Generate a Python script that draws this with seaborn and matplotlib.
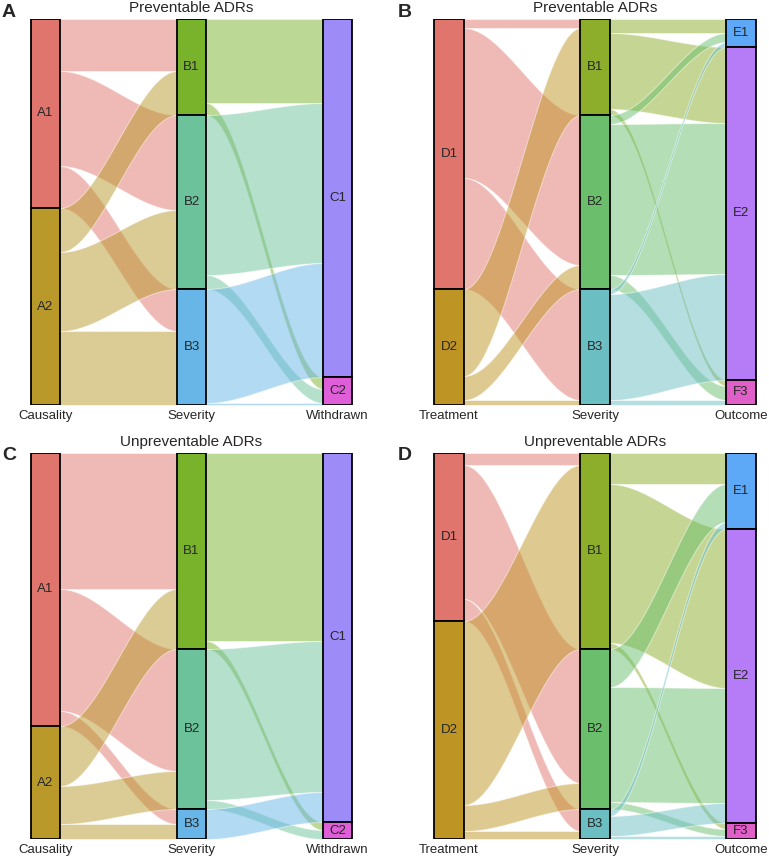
import numpy as np
import seaborn as sns
import matplotlib.pyplot as plt

# stratum levels for each axis
causality = ["A1", "A2"]
treatment = ["D1", "D2"]
severity = ["B1", "B2", "B3"]
withdrawn = ["C1", "C2"]
outcome = ["E1", "E2", "F3"]

# flow sizes (rows = left stratum, cols = right stratum)
prev_causality_severity = [[52, 95, 42], [44, 79, 74]]
prev_severity_withdrawn = [[84, 12], [160, 14], [114, 2]]
prev_treatment_severity = [[9, 150, 111], [87, 24, 5]]
prev_severity_outcome = [[14, 76, 6], [9, 151, 14], [5, 106, 5]]

unprev_causality_severity = [[136, 122, 15], [60, 38, 15]]
unprev_severity_withdrawn = [[188, 8], [151, 9], [30, 0]]
unprev_treatment_severity = [[12, 134, 22], [184, 26, 8]]
unprev_severity_outcome = [[31, 159, 6], [38, 115, 7], [7, 20, 3]]

colors_withdrawn = {"A1": "#E0756D", "A2": "#B8992A", "B1": "#79B22B",
                    "B2": "#6CC29B", "B3": "#67B6E7", "C1": "#9D8CF8",
                    "C2": "#DE5FD8"}
colors_outcome = {"D1": "#E0756D", "D2": "#BE9524", "B1": "#8DAE2A",
                  "B2": "#6BBF6C", "B3": "#6BBFC3", "E1": "#5EA9F7",
                  "E2": "#B67BF7", "F3": "#E05FC8"}

sns.set_style("white")
plt.rcParams['font.family'] = ['Liberation Sans', 'DejaVu Sans']

W, H = 769, 860
WIDTH = 0.2  # stratum width in axis units


def draw_alluvial(ax, names, levels, flows, colors, title):
    flows = [np.array(f, dtype=float) for f in flows]
    totals = [flows[0].sum(axis=1), flows[0].sum(axis=0), flows[1].sum(axis=0)]
    tops = [np.concatenate([[0], np.cumsum(t)[:-1]]) for t in totals]
    grand = totals[0].sum()

    # flows between neighbouring axes
    for i, m in enumerate(flows):
        x0 = i + 1 + WIDTH / 2
        x1 = i + 2 - WIDTH / 2
        xs = np.linspace(x0, x1, 80)
        t = (xs - x0) / (x1 - x0)
        s = t * t * (3 - 2 * t)
        left_off = tops[i].copy()
        right_start = tops[i + 1].copy()
        # incoming positions on right stratum: ordered by source
        right_pos = np.zeros_like(m)
        for c in range(m.shape[1]):
            acc = right_start[c]
            for r in range(m.shape[0]):
                right_pos[r, c] = acc
                acc += m[r, c]
        for r in range(m.shape[0]):
            for c in range(m.shape[1]):
                v = m[r, c]
                if v <= 0:
                    continue
                yl = left_off[r]
                yr = right_pos[r, c]
                ytop = yl + (yr - yl) * s
                ax.fill_between(xs, ytop, ytop + v, color=colors[levels[i][r]],
                                alpha=0.5, edgecolor="white", linewidth=0.7,
                                zorder=1)
                left_off[r] += v

    # strata
    for i in range(3):
        for j, lev in enumerate(levels[i]):
            ax.bar(i + 1, totals[i][j], bottom=tops[i][j], width=WIDTH,
                   color=colors[lev], edgecolor="black", linewidth=1.3,
                   zorder=3)
            ax.text(i + 1, tops[i][j] + totals[i][j] / 2, lev, ha="center",
                    va="center", fontsize=9.5, zorder=4)
        ax.annotate(names[i], (i + 1, grand), xytext=(0, -3.5),
                    textcoords="offset points", ha="center", va="top",
                    fontsize=9.5, annotation_clip=False)

    ax.annotate(title, (2, 0), xytext=(0, 4.8), textcoords="offset points",
                ha="center", va="baseline", fontsize=11, annotation_clip=False)
    ax.set_xlim(0.7, 3.3)
    ax.set_ylim(grand, 0)
    ax.axis("off")


def add_axes(fig, center1, top, bottom):
    unit = 146.0
    left = center1 - 0.3 * unit
    width = 2.6 * unit
    return fig.add_axes([left / W, 1 - bottom / H, width / W, (bottom - top) / H])


fig = plt.figure(figsize=(W / 100, H / 100), dpi=100)

ax_a = add_axes(fig, 45.5, 19, 405)
draw_alluvial(ax_a, ["Causality", "Severity", "Withdrawn"],
              [causality, severity, withdrawn],
              [prev_causality_severity, prev_severity_withdrawn],
              colors_withdrawn, "Preventable ADRs")

ax_b = add_axes(fig, 449, 19, 405)
draw_alluvial(ax_b, ["Treatment", "Severity", "Outcome"],
              [treatment, severity, outcome],
              [prev_treatment_severity, prev_severity_outcome],
              colors_outcome, "Preventable ADRs")

ax_c = add_axes(fig, 45.5, 453, 839)
draw_alluvial(ax_c, ["Causality", "Severity", "Withdrawn"],
              [causality, severity, withdrawn],
              [unprev_causality_severity, unprev_severity_withdrawn],
              colors_withdrawn, "Unpreventable ADRs")

ax_d = add_axes(fig, 449, 453, 839)
draw_alluvial(ax_d, ["Treatment", "Severity", "Outcome"],
              [treatment, severity, outcome],
              [unprev_treatment_severity, unprev_severity_outcome],
              colors_outcome, "Unpreventable ADRs")

for letter, px, py in [("A", 2, 17), ("B", 398, 17), ("C", 2, 460), ("D", 398, 460)]:
    fig.text(px / W, 1 - py / H, letter, fontsize=14, fontweight="bold",
             ha="left", va="baseline")

fig.savefig("out.png", dpi=100)
